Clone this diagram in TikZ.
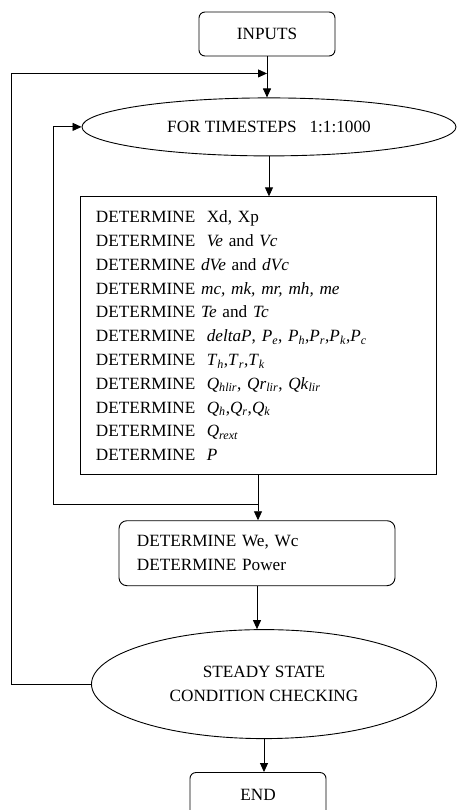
\documentclass[tikz,border=0pt]{standalone}
\usepackage{fontspec}
\setmainfont{Liberation Serif}
\usetikzlibrary{positioning,arrows.meta,shapes.geometric,calc}
\newcommand{\isub}[2]{\textit{#1}\textsubscript{\textit{#2}}}

\begin{document}
\begin{tikzpicture}[
  font=\fontsize{17.2pt}{23.8pt}\selectfont,
  box/.style={rectangle, draw, line width=0.9pt, inner sep=0pt},
  term/.style={box, rounded corners=6pt, minimum width=136pt, minimum height=44pt},
  stepblock/.style={box, align=left, inner xsep=16pt},
  loopell/.style={ellipse, draw, line width=0.9pt, inner sep=0pt},
  arr/.style={-{Triangle[length=9pt,width=8pt]}, line width=0.9pt}
]
\useasboundingbox (-267pt,34pt) rectangle (189pt,-776pt);

% Start
\node[term] (inputs) {INPUTS};

% Time loop
\node[loopell, minimum width=374pt, minimum height=58pt, below=41pt of inputs, xshift=2pt] (loop) {FOR TIMESTEPS\ \ \ 1:1:1000};

% Per-step calculations
\node[stepblock, text width=324pt, minimum height=278pt, below=40pt of loop, xshift=-11pt] (calc) {%
DETERMINE\ \ Xd, Xp\\
DETERMINE\ \ \textit{Ve} and \textit{Vc}\\
DETERMINE \textit{dVe} and \textit{dVc}\\
DETERMINE \textit{mc, mk, mr, mh, me}\\
DETERMINE \textit{Te} and \textit{Tc}\\
DETERMINE\ \ \textit{deltaP}, \isub{P}{e}, \isub{P}{h},\isub{P}{r},\isub{P}{k},\isub{P}{c}\\
DETERMINE\ \ \isub{T}{h},\isub{T}{r},\isub{T}{k}\\
DETERMINE\ \ \isub{Q}{hlir}, \isub{Qr}{lir}, \isub{Qk}{lir}\\
DETERMINE\ \ \isub{Q}{h},\isub{Q}{r},\isub{Q}{k}\\
DETERMINE\ \ \isub{Q}{rext}\\
DETERMINE\ \ \textit{P}};

% Work and power
\node[stepblock, rounded corners=8pt, inner xsep=18pt, text width=240pt, minimum height=65pt, below=45pt of calc, xshift=-1pt] (work) {DETERMINE We, Wc\\DETERMINE Power};

% Convergence check
\node[loopell, minimum width=345pt, minimum height=109pt, align=center, below=43pt of work, xshift=7pt] (steady) {STEADY STATE\\CONDITION CHECKING};

% End
\node[term, below=33pt of steady, xshift=-6pt] (finish) {END};

% Main flow
\coordinate (outer) at ($(inputs.south)+(0,-17pt)$);
\coordinate (inner) at ($(calc.south)+(0,-29pt)$);
\draw[arr] (inputs.south) -- (loop.north -| inputs.south);
\draw[arr] (loop.south) -- (loop.south |- calc.north);
\draw[arr] (calc.south) -- (calc.south |- work.north);
\draw[arr] (work.south) -- (work.south |- steady.north);
\draw[arr] (steady.south) -- (steady.south |- finish.north);

% Loops back
\draw[line width=0.9pt] (inner) -- ++(-205pt,0) coordinate (innerturn);
\draw[arr] (innerturn) |- (loop.west);
\draw[arr] (steady.west) -- ++(-80pt,0) |- (outer);
\end{tikzpicture}
\end{document}
